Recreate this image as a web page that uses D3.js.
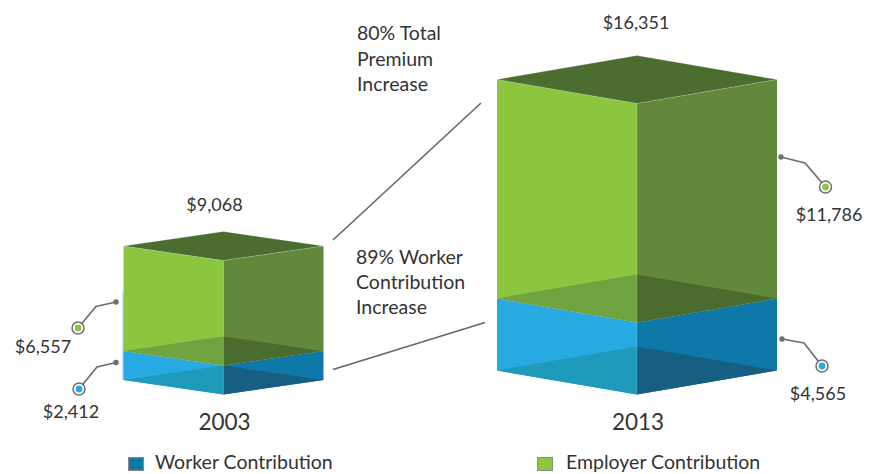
<!DOCTYPE html>
<html>
<head>
<meta charset="utf-8">
<script src="https://cdn.jsdelivr.net/npm/d3@7"></script>
<style>
html, body { margin: 0; padding: 0; background: #fff; }
text { font-family: Lato, "Open Sans", sans-serif; fill: #333; }
</style>
</head>
<body>
<div id="my_dataviz"></div>
<script>
var years = ["2003", "2013"];
var workerValues = [2412, 4565];
var employerValues = [6557, 11786];
var totalValues = [9068, 16351];
var workerLabels = ["$2,412", "$4,565"];
var employerLabels = ["$6,557", "$11,786"];
var totalLabels = ["$9,068", "$16,351"];
var legendNames = ["Worker Contribution", "Employer Contribution"];
var noteTop = ["80% Total", "Premium", "Increase"];
var noteBottom = ["89% Worker", "Contribution", "Increase"];

var width = 869, height = 474, baseline = 394.5;

var svg = d3.select("#my_dataviz")
    .append("svg")
    .attr("width", width)
    .attr("height", height)
    .style("display", "block");

// the original is not to scale, so the height scale is piecewise
var h = d3.scaleLinear()
    .domain([0, 2412, 4565, 9068, 16351])
    .range([0, 29, 72, 134, 291]);
var x = d3.scalePoint().domain(years).range([223.5, 637]);
var halfW = d3.scaleLinear().domain([9068, 16351]).range([100, 140]);
var depth = d3.scaleLinear().domain([9068, 16351]).range([14.5, 24]);

var pts = function(a) { return a.map(function(p) { return p.join(","); }).join(" "); };

function poly(a, fill) {
    svg.append("polygon").attr("points", pts(a)).attr("fill", fill);
}

// one layer of a box: y0 is the front bottom corner, y1 the front top corner
function layer(cx, w, d, y0, y1, c) {
    var l = cx - w, r = cx + w;
    poly([[l, y0 - d], [cx, y0], [cx, y1], [l, y1 - d]], c.left);
    poly([[cx, y0], [r, y0 - d], [r, y1 - d], [cx, y1]], c.right);
    poly([[l, y0 - d], [cx, y0 - 2 * d], [cx, y0]], c.floorL);
    poly([[cx, y0 - 2 * d], [r, y0 - d], [cx, y0]], c.floorR);
}

var blue = {left: "#29a9e1", right: "#0e79a8", floorL: "#1e9aba", floorR: "#165f82"};
var green = {left: "#8bc63f", right: "#62883c", floorL: "#6fa33f", floorR: "#4b6c2f"};
var topColor = "#4b6e30";

years.forEach(function(yr, i) {
    var cx = x(yr), w = halfW(totalValues[i]), d = depth(totalValues[i]);
    var seam = baseline - h(workerValues[i]);
    var top = baseline - h(totalValues[i]);

    if (i == 0) {
        svg.append("line")
            .attr("x1", cx - w - 0.5).attr("x2", cx - w - 0.5)
            .attr("y1", top + 32).attr("y2", baseline - d)
            .attr("stroke", "#7cc4ea").attr("stroke-width", 1);
    }
    layer(cx, w, d, baseline, seam, blue);
    layer(cx, w, d, seam, top, green);
    svg.append("polygon")
        .attr("points", pts([[cx - w, top - d], [cx, top - 2 * d], [cx + w, top - d], [cx, top]]))
        .attr("fill", topColor)
        .attr("stroke", "#fff").attr("stroke-opacity", 0.35).attr("stroke-width", 0.6);
    svg.append("line")
        .attr("x1", cx).attr("x2", cx).attr("y1", top).attr("y2", baseline)
        .attr("stroke", "#fff").attr("stroke-opacity", 0.25).attr("stroke-width", 0.6);

    svg.append("text")
        .attr("x", cx + 1).attr("y", baseline + 35.5)
        .attr("text-anchor", "middle").attr("font-size", 22.5)
        .text(yr);
});

// total labels
var totalY = [211, 29], totalX = [214.5, 636];
totalLabels.forEach(function(t, i) {
    svg.append("text")
        .attr("x", totalX[i]).attr("y", totalY[i])
        .attr("text-anchor", "middle").attr("font-size", 18)
        .text(t);
});

// connectors between the cubes
[[[333, 240], [481, 103]], [[333, 369.5], [485, 322.5]]].forEach(function(p) {
    svg.append("line")
        .attr("x1", p[0][0]).attr("y1", p[0][1])
        .attr("x2", p[1][0]).attr("y2", p[1][1])
        .attr("stroke", "#666").attr("stroke-width", 1.6);
});

function note(lines, xp, y0, step) {
    lines.forEach(function(t, i) {
        svg.append("text")
            .attr("x", xp).attr("y", y0 + i * step)
            .attr("font-size", 19.5)
            .text(t);
    });
}
note(noteTop, 357, 40, 25.5);
note(noteBottom, 356, 264, 25);

// callouts: start dot, elbow, ring, then the label
var callouts = [
    {path: [[116, 302], [96, 306.5], [78, 328]], col: green.left, label: employerLabels[0], lx: 43, ly: 353},
    {path: [[116, 362.5], [97, 367], [79, 389]], col: blue.left, label: workerLabels[0], lx: 71, ly: 418},
    {path: [[781, 157], [805, 163], [825.5, 187]], col: green.left, label: employerLabels[1], lx: 829, ly: 221},
    {path: [[782, 339], [804, 343], [822, 366]], col: blue.left, label: workerLabels[1], lx: 818, ly: 400}
];
callouts.forEach(function(c) {
    var a = c.path[0], e = c.path[2];
    svg.append("path")
        .attr("d", d3.line()(c.path))
        .attr("fill", "none").attr("stroke", "#6d6e70").attr("stroke-width", 1.7);
    svg.append("circle").attr("cx", a[0]).attr("cy", a[1]).attr("r", 2.7).attr("fill", "#6d6e70");
    svg.append("circle").attr("cx", e[0]).attr("cy", e[1]).attr("r", 6)
        .attr("fill", "#fff").attr("stroke", "#6d6e70").attr("stroke-width", 1.5);
    svg.append("circle").attr("cx", e[0]).attr("cy", e[1]).attr("r", 3.4).attr("fill", c.col);
    svg.append("text")
        .attr("x", c.lx).attr("y", c.ly)
        .attr("text-anchor", "middle").attr("font-size", 18)
        .text(c.label);
});

// legend
var legendColors = ["#0e79a8", "#8bc63f"];
var swatchX = [128.5, 537.5], textX = [155, 566];
legendNames.forEach(function(n, i) {
    svg.append("rect")
        .attr("x", swatchX[i]).attr("y", 457.5)
        .attr("width", 15).attr("height", 13)
        .attr("fill", legendColors[i])
        .attr("stroke", "#8a8a8a").attr("stroke-width", 1);
    svg.append("text")
        .attr("x", textX[i]).attr("y", 469)
        .attr("font-size", 19.5)
        .text(n);
});
</script>
</body>
</html>
